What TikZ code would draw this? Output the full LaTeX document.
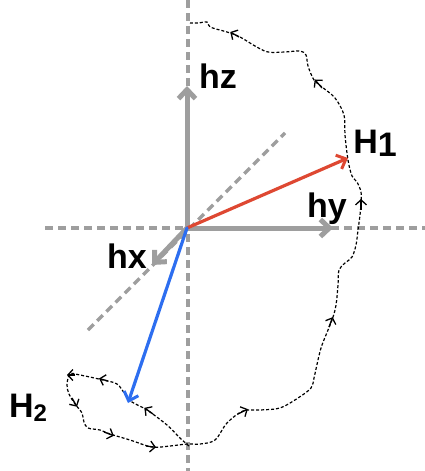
\documentclass[tikz,border=0pt]{standalone}
\usepackage{fontspec}
\setmainfont{Liberation Sans}
\usetikzlibrary{arrows.meta}
\definecolor{axgray}{RGB}{158,158,158}
\definecolor{vred}{RGB}{222,72,50}
\definecolor{vblue}{RGB}{45,110,240}
\tikzset{
  guide/.style={axgray, line width=3.5pt, dash pattern=on 8pt off 5pt},
  axis/.style={axgray, line width=5pt, -{Straight Barb[length=9pt,width=17pt,line width=5pt]}, line join=round, line cap=round},
  vec/.style={line width=3.2pt, line cap=round, -{Straight Barb[length=8pt,width=15pt,line width=3pt]}},
  path/.style={black, line width=1.2pt, dash pattern=on 3pt off 2pt},
  chev/.style={black, line width=1.3pt, -{Straight Barb[length=5pt,width=11pt,line width=1.3pt]}, shorten >=-2pt},
  lab/.style={font=\fontsize{34}{36}\selectfont\bfseries, inner sep=0pt}
}
\begin{document}
\begin{tikzpicture}[x=1pt,y=-1pt]
\useasboundingbox (0,0) rectangle (425,471);
% guides
\coordinate (O) at (187,228);
\coordinate (gt) at (188,0);
\coordinate (gb) at (188,471);
\coordinate (gl) at (45,228);
\coordinate (gr) at (425,228);
\coordinate (d1) at (88,330);
\coordinate (d2) at (285,133);
\draw[guide] (gt) -- (gb);
\draw[guide] (gl) -- (gr);
\draw[guide] (d1) -- (d2);
% axes
\coordinate (zt) at (187,86);
\coordinate (yt) at (333,228);
\coordinate (xt) at (152,265);
\draw[axis] (O) -- (zt);
\draw[axis] (O) -- (yt);
\draw[axis] (O) -- (xt);
% curve
\draw[path] plot[smooth, tension=0.55] coordinates {
(189,446) (180,438) (167,425) (147,410) (132,402) (125,394) (117,384) (103,380) (80,375) (70,374) (67,385) (69,394) (75,404) (82,413) (84,422) (88,428) (100,430) (110,434) (130,440) (152,447) (170,446) (187,444) (200,444) (215,440) (227,423) (243,411) (260,410) (280,408) (298,398) (311,388) (314,378) (318,360) (322,345) (332,320) (336,305) (338,285) (339,270) (345,263) (352,257) (356,245) (358,230) (360,215) (361,203) (361,192) (357,182) (352,176) (348,160) (345,135) (344,115) (335,98) (322,87) (314,80) (308,66) (306,55) (300,51) (285,52) (268,52) (255,46) (240,37) (227,32) (210,27) (207,22) (198,23) (190,23)};
% direction marks
\coordinate (a1s) at (153,414); \coordinate (a1) at (146,409);
\coordinate (a2s) at (108,381); \coordinate (a2) at (101,379);
\coordinate (a3s) at (75,375); \coordinate (a3) at (69,375);
\coordinate (a4s) at (72,398); \coordinate (a4) at (76,405);
\coordinate (a5s) at (104,432); \coordinate (a5) at (112,435);
\coordinate (a6s) at (146,446); \coordinate (a6) at (154,447);
\coordinate (a7s) at (238,414); \coordinate (a7) at (246,410);
\coordinate (a8s) at (329,327); \coordinate (a8) at (332,319);
\coordinate (a9s) at (361,210); \coordinate (a9) at (361,201);
\coordinate (a10s) at (322,88); \coordinate (a10) at (316,81);
\coordinate (a11s) at (239,37); \coordinate (a11) at (232,33);
\foreach \i in {1,...,11} {\draw[chev] (a\i s) -- (a\i);}
% vectors
\coordinate (H1t) at (348,158);
\coordinate (H2t) at (128,403);
\draw[vec, vred] (O) -- (H1t);
\draw[vec, vblue] (O) -- (H2t);
% labels
\node[lab] (hz) at (218,76) {hz};
\node[lab] (hy) at (327,209) {hy};
\node[lab] (hx) at (127,256) {hx};
\node[lab] (H1) at (375,143) {H\raisebox{-3pt}{1}};
\node[lab] (H2) at (28,408) {H\raisebox{-4pt}{\fontsize{24}{26}\selectfont 2}};
\end{tikzpicture}
\end{document}
